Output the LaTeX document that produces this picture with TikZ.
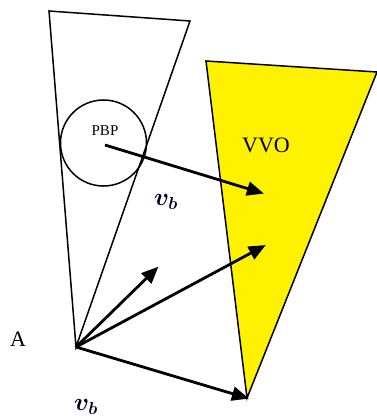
\documentclass[tikz,border=0pt]{standalone}
\usepackage{fontspec}
\setmainfont{Liberation Serif}
\usetikzlibrary{arrows.meta}
\begin{document}
\begin{tikzpicture}[x=1pt,y=-1pt,
  edge/.style={line width=1.5pt,line join=miter},
  vec/.style={line width=2.8pt,-{Triangle[length=17pt,width=14pt]},shorten >=-2pt},
  lbl/.style={inner sep=0pt,font=\fontsize{22}{24}\selectfont},
  vlbl/.style={inner sep=0pt,text=black!85!blue,font=\fontsize{25}{27}\selectfont\boldmath}]
\useasboundingbox (0,0) rectangle (377,420);
% coordinates
\coordinate (A) at (76,347);
\coordinate (ctl) at (49,11);
\coordinate (ctr) at (190,21);
\coordinate (vtl) at (206,61);
\coordinate (vtr) at (377,72);
\coordinate (vb) at (247,398);
\coordinate (t1) at (157,268);
\coordinate (t2) at (264,246);
\coordinate (t3) at (262,193);
% VVO region
\fill[yellow] (vtl) -- (vtr) -- (vb) -- cycle;
\draw[edge] (vtl) -- (vtr) -- (vb) -- cycle;
% cone
\draw[edge] (A) -- (ctl) -- (ctr) -- cycle;
% PBP circle
\node[draw,circle,line width=1.5pt,minimum size=86pt,inner sep=0pt] (pbp) at (103.5,143) {};
\coordinate (pc) at (105,145);
\node[inner sep=0pt,font=\fontsize{15}{17}\selectfont] (pbptxt) at (105,131) {PBP};
% vectors
\draw[vec] (pc) -- (t3);
\draw[vec] (A) -- (t1);
\draw[vec] (A) -- (t2);
\draw[vec] (A) -- (vb);
% labels
\node[lbl] (vvo) at (266,145) {VVO};
\node[lbl] (alab) at (18,339) {A};
\node[vlbl] (vb1) at (166,202) {$v_b$};
\node[vlbl] (vb2) at (86,407) {$v_b$};
\end{tikzpicture}
\end{document}
